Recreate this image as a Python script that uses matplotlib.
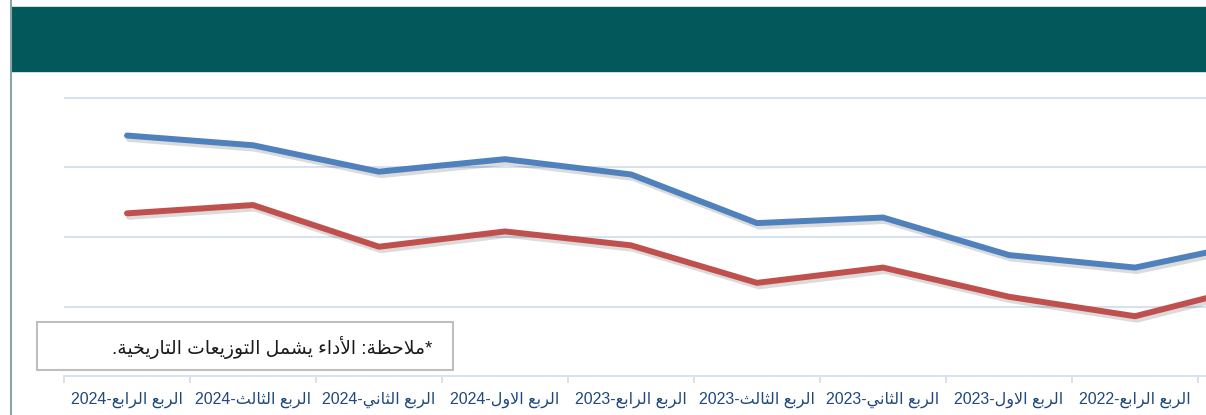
import re
import numpy as np
import matplotlib
matplotlib.use("Agg")
import matplotlib.pyplot as plt
import matplotlib.patheffects as pe
from matplotlib.patches import Rectangle

# data (gridlines every 5 units)
quarters = [
    "الربع الرابع-2024", "الربع الثالث-2024", "الربع الثاني-2024",
    "الربع الاول-2024", "الربع الرابع-2023", "الربع الثالث-2023",
    "الربع الثاني-2023", "الربع الاول-2023", "الربع الرابع-2022",
    "الربع الثالث-2022",
]
series_blue = [17.3, 16.6, 14.7, 15.6, 14.5, 11.0, 11.4, 8.7, 7.8, 9.7]
series_red = [11.7, 12.3, 9.3, 10.4, 9.4, 6.7, 7.8, 5.7, 4.3, 6.6]
note = "*ملاحظة: الأداء يشمل التوزيعات التاريخية."

# simple arabic shaping (matplotlib has no complex text layout)
DUAL = {'ب': 0xFE8F, 'ت': 0xFE95, 'ث': 0xFE99, 'ح': 0xFEA1, 'خ': 0xFEA5,
        'س': 0xFEB1, 'ش': 0xFEB5, 'ظ': 0xFEC5, 'ع': 0xFEC9, 'ك': 0xFED9,
        'ل': 0xFEDD, 'م': 0xFEE1, 'ن': 0xFEE5, 'ه': 0xFEE9, 'ي': 0xFEF1}
RIGHT = {'ا': 0xFE8D, 'أ': 0xFE83, 'ة': 0xFE93, 'د': 0xFEA9, 'ر': 0xFEAD,
         'ز': 0xFEAF, 'و': 0xFEED}
NONJ = {'ء': 0xFE80}
LAM_ALEF = {'ا': 0xFEFB, 'أ': 0xFEF7}


def shape(text):
    out = []
    i = 0
    n = len(text)
    while i < n:
        c = text[i]
        prev = text[i - 1] if i > 0 else None
        nxt = text[i + 1] if i + 1 < n else None
        p = prev in DUAL
        if c == 'ل' and nxt in LAM_ALEF:
            base = LAM_ALEF[nxt]
            out.append(chr(base + 1 if p else base))
            i += 2
            continue
        if c in DUAL:
            q = nxt in DUAL or nxt in RIGHT
            off = 3 if (p and q) else 1 if p else 2 if q else 0
            out.append(chr(DUAL[c] + off))
        elif c in RIGHT:
            out.append(chr(RIGHT[c] + (1 if p else 0)))
        elif c in NONJ:
            out.append(chr(NONJ[c]))
        else:
            out.append(c)
        i += 1
    return "".join(out)


def visual(text):
    runs = re.findall(r"\d+|\D+", shape(text))
    runs = [r if r.isdigit() else r[::-1] for r in runs]
    return "".join(runs[::-1])


W, H = 1206, 415
fig = plt.figure(figsize=(W / 100, H / 100), dpi=100)

# header band and left border
fig.patches.append(Rectangle((11 / W, 1 - 71 / H), 1, 64 / H,
                             transform=fig.transFigure, color='#02585A', zorder=0))
fig.add_artist(plt.Line2D([11 / W, 11 / W], [0, 1], transform=fig.transFigure,
                          color='#86A8A6', lw=1.5))

left, right = 64, 1206
top, bottom = 90, 376
ax = fig.add_axes([left / W, 1 - bottom / H, (right - left) / W, (bottom - top) / H])

x = np.arange(len(quarters))
shadow = [pe.SimpleLineShadow(offset=(1.5, -2.5), shadow_color='k', alpha=0.14), pe.Normal()]
ax.plot(x, series_blue, color='#4F81BD', lw=4.3, solid_capstyle='round',
        solid_joinstyle='round', path_effects=shadow, zorder=3)
ax.plot(x, series_red, color='#C0504D', lw=4.3, solid_capstyle='round',
        solid_joinstyle='round', path_effects=shadow, zorder=3)

ax.set_yticks([5, 10, 15, 20])
ax.yaxis.grid(True, color='#D6E1F2', lw=1.4)
ax.tick_params(axis='y', length=0, labelleft=False)
ax.set_axisbelow(True)

for s in ['left', 'right', 'top']:
    ax.spines[s].set_visible(False)
ax.spines['bottom'].set_color('#D6E1F2')
ax.spines['bottom'].set_linewidth(1.4)

ax.set_xticks(np.arange(len(quarters)) - 0.5)
ax.set_xticklabels([])
ax.tick_params(axis='x', which='major', length=5, color='#D6E1F2', width=1.4)
ax.set_xticks(x, [visual(q) for q in quarters], minor=True)
ax.tick_params(axis='x', which='minor', length=0, pad=11)
for lab in ax.get_xticklabels(minor=True):
    lab.set_family(['Liberation Sans', 'DejaVu Sans'])
    lab.set_fontsize(11.5)
    lab.set_color('#1F497D')

# limits after set_xticks (it widens the view)
px_unit = 69.5 / 5
ax.set_ylim(0, (bottom - top) / px_unit)
ax.set_xlim(-0.5, (right - 127) / 126)

# note box
fig.patches.append(Rectangle((37 / W, 1 - 370 / H), 416 / W, 48 / H,
                             transform=fig.transFigure, facecolor='white',
                             edgecolor='#BFBFBF', lw=1.5, zorder=5))
fig.text(432 / W, 1 - 347 / H, visual(note), ha='right', va='center',
         fontsize=13.5, color='#1A1A1A', family=['Liberation Sans', 'DejaVu Sans'],
         zorder=6)

fig.savefig('out.png', dpi=100)
